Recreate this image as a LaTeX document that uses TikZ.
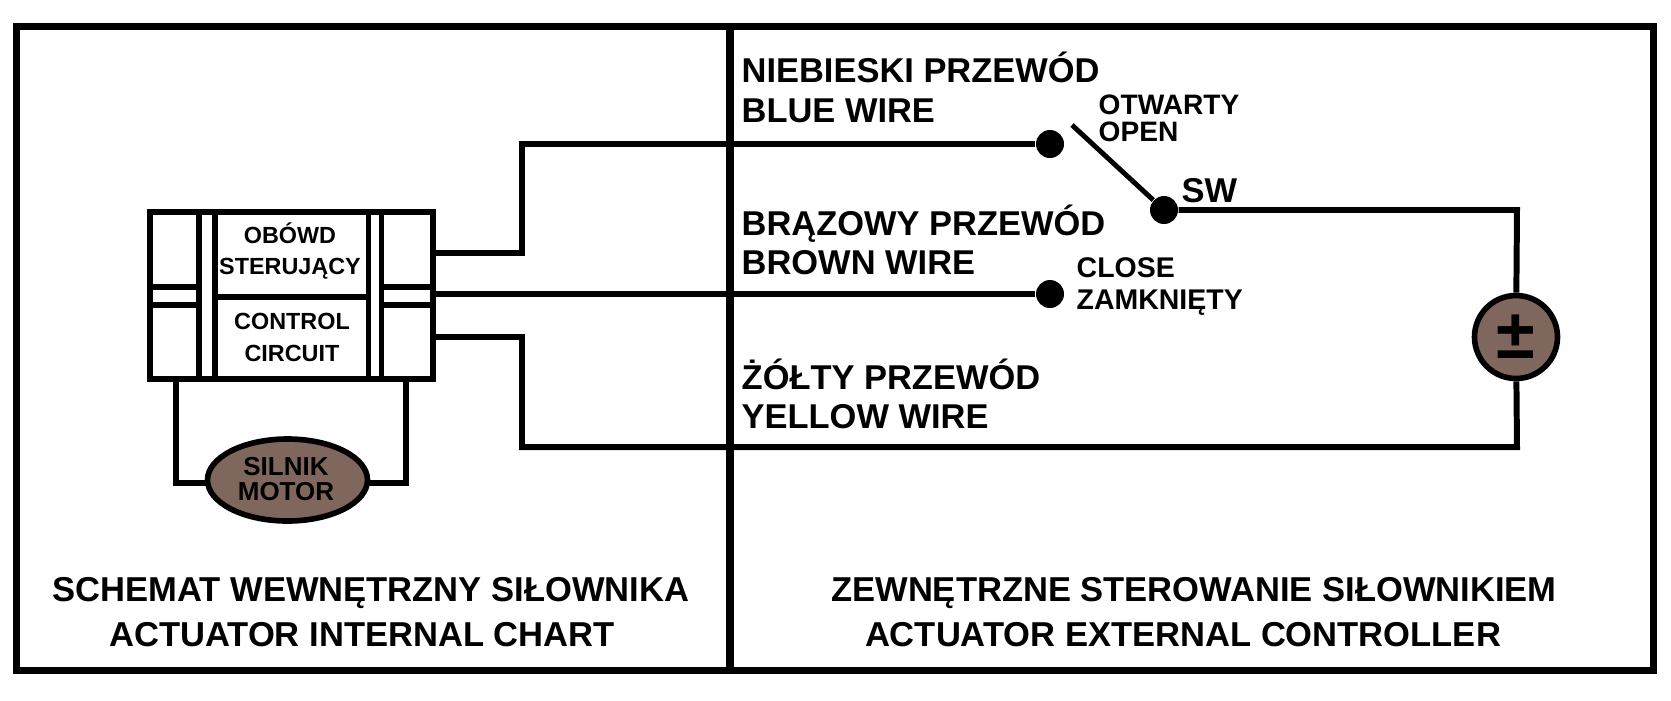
\documentclass[tikz,border=0pt]{standalone}
\usepackage{fontspec}
\setmainfont{Liberation Sans}
\usepackage{tikz}
\usetikzlibrary{shapes.geometric}
\definecolor{motorbrown}{HTML}{7F675D}
\tikzset{
  wire/.style={line width=1.7pt, line join=miter},
  bar/.style={line width=1.6pt},
  wirelabel/.style={font=\bfseries\fontsize{9.8}{11.1}\selectfont, inner sep=0pt, align=left, anchor=base west},
  contact/.style={font=\bfseries\fontsize{8.1}{9.1}\selectfont, inner sep=0pt, align=left, anchor=base west},
  chart/.style={font=\bfseries\fontsize{6.65}{9.1}\selectfont, inner sep=0pt, align=center},
  caption/.style={font=\bfseries\fontsize{9.83}{11.1}\selectfont, inner sep=0pt, anchor=base},
  dot/.style={circle, fill=black, inner sep=0pt, minimum size=.28cm},
  brownpart/.style={draw, line width=1.6pt, fill=motorbrown, inner sep=0pt}
}
\begin{document}
\begin{tikzpicture}
    \useasboundingbox (0, 0) rectangle (16.71, 7);
    % frame
    \draw[line width=2pt] (.165, .30) rectangle (16.535, 6.735);
    \draw[line width=2pt] (7.30, 6.735) -- (7.30, .30);
    % wires
    \node[dot] (opendot) at (10.50, 5.56) {};
    \node[dot] (closedot) at (10.50, 4.06) {};
    \node[dot] (swdot) at (11.64, 4.90) {};
    \node[brownpart, circle, minimum size=.83cm, font=\bfseries\fontsize{20}{20}\selectfont] (battery) at (15.16, 3.63) {±};
    \node[brownpart, ellipse, minimum width=1.60cm, minimum height=.82cm] (motor) at (2.875, 2.20) {};
    \coordinate (blueout) at (4.36, 4.47);
    \coordinate (brownout) at (4.36, 4.06);
    \coordinate (yellowout) at (4.36, 3.63);
    \coordinate (swend) at (10.72, 5.75);
    \coordinate (legleft) at (1.76, 3.18);
    \coordinate (legright) at (4.06, 3.18);
    \coordinate (motorleft) at (2.09, 2.17);
    \coordinate (motorright) at (3.66, 2.17);
    \draw[wire] (blueout) -- (5.22, 4.47) -- (5.22, 5.56) -- (opendot);
    \draw[wire] (brownout) -- (closedot);
    \draw[wire] (yellowout) -- (5.22, 3.63) -- (5.22, 2.53) -- (15.17, 2.53) -- (battery);
    \draw[wire] (swdot) -- (15.17, 4.90) -- (battery);
    \draw[line width=1.4pt] (swend) -- (swdot);
    \draw[wire] (legleft) |- (motorleft);
    \draw[wire] (legright) |- (motorright);
    % actuator box
    \node[draw, bar, minimum width=2.83cm, minimum height=1.67cm, inner sep=0pt] (box) at (2.915, 4.045) {};
    \draw[bar] (1.99, 4.88) -- (1.99, 3.21);
    \draw[bar] (2.15, 4.88) -- (2.15, 3.21);
    \draw[bar] (3.685, 4.88) -- (3.685, 3.21);
    \draw[bar] (3.815, 4.88) -- (3.815, 3.21);
    \draw[bar] (2.15, 4.03) -- (3.685, 4.03);
    \draw[bar] (1.50, 4.13) -- (1.99, 4.13);
    \draw[bar] (1.50, 3.95) -- (1.99, 3.95);
    \draw[bar] (3.815, 4.13) -- (4.33, 4.13);
    \draw[bar] (3.815, 3.95) -- (4.33, 3.95);
    % labels
    \node[chart] (obwod) at (2.90, 4.49) {OBÓWD\\STERUJĄCY};
    \node[chart] (control) at (2.92, 3.63) {CONTROL\\CIRCUIT};
    \node[inner sep=0pt, align=center, font=\bfseries\fontsize{7.4}{7.3}\selectfont] (silnik) at (2.86, 2.21) {SILNIK\\MOTOR};
    \node[wirelabel] (blue) at (7.41, 5.78) {NIEBIESKI PRZEWÓD\\BLUE WIRE};
    \node[wirelabel] (brown) at (7.41, 4.26) {BRĄZOWY PRZEWÓD\\BROWN WIRE};
    \node[wirelabel] (yellow) at (7.41, 2.72) {ŻÓŁTY PRZEWÓD\\YELLOW WIRE};
    \node[contact, font=\bfseries\fontsize{8}{7.5}\selectfont] (open) at (10.98, 5.59) {OTWARTY\\OPEN};
    \node[contact] (close) at (10.76, 3.91) {CLOSE\\ZAMKNIĘTY};
    \node[wirelabel] (sw) at (11.81, 4.98) {SW};
    \node[caption] (internalpl) at (3.71, .985) {SCHEMAT WEWNĘTRZNY SIŁOWNIKA};
    \node[caption] (internalen) at (3.62, .54) {ACTUATOR INTERNAL CHART};
    \node[caption] (externalpl) at (11.94, .985) {ZEWNĘTRZNE STEROWANIE SIŁOWNIKIEM};
    \node[caption] (externalen) at (11.83, .54) {ACTUATOR EXTERNAL CONTROLLER};
  \end{tikzpicture}
\end{document}
